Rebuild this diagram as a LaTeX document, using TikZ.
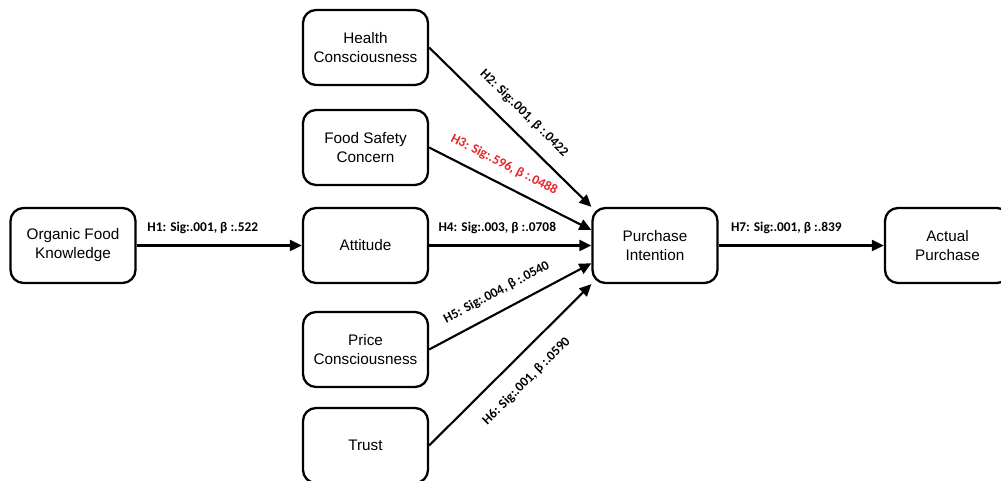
\documentclass[tikz,border=0pt]{standalone}
\usepackage{fontspec}
\setmainfont{Liberation Sans}
\newfontfamily\hypfont{Carlito}
\usetikzlibrary{positioning,arrows.meta,calc}
\definecolor{SigRed}{RGB}{232,34,40}

\begin{document}
\begin{tikzpicture}[
  construct/.style={draw, line width=1.3pt, rounded corners=0.26cm, minimum width=2.5cm,
    minimum height=1.5cm, align=center, font=\fontsize{8.7}{10.8}\selectfont},
  link/.style={-{Triangle[length=2.4mm,width=2.2mm]}, line width=1.2pt},
  hyp/.style={font=\hypfont\bfseries\fontsize{7.6}{9}\selectfont}]
  \useasboundingbox (0,0) rectangle (20.02,9.62);

  \node[construct] (ofk) at (1.46,4.71) {Organic Food\\Knowledge};
  \node[construct] (hc) at (7.31,8.67) {Health\\Consciousness};
  \node[construct] (fsc) at (7.31,6.67) {Food Safety\\Concern};
  \node[construct] (att) at (7.31,4.71) {Attitude};
  \node[construct] (pc) at (7.31,2.63) {Price\\Consciousness};
  \node[construct] (tr) at (7.31,0.71) {Trust};
  \node[construct] (pi) at (13.10,4.71) {Purchase\\Intention};
  \node[construct] (ap) at (18.95,4.71) {Actual\\Purchase};

  \draw[link] (ofk) -- (att) node[hyp, pos=.4, above=1mm] {H1: Sig:.001, β :.522};
  \draw[link] (hc.east) -- (pi.north west)
    node[hyp, pos=.5, sloped, above=1.4mm] {H2: Sig:.001, β :.0422};
  \draw[link] (fsc.east) -- ($(pi.north west)!0.3!(pi.south west)$)
    node[hyp, SigRed, pos=.41, sloped, above=1.2mm] {H3: Sig:.596, β :.0488};
  \draw[link] (att) -- (pi) node[hyp, pos=.42, above=1mm] {H4: Sig:.003, β :.0708};
  \draw[link] (pc.east) -- ($(pi.north west)!0.73!(pi.south west)$)
    node[hyp, pos=.47, sloped, above=1.2mm] {H5: Sig:.004, β :.0540};
  \draw[link] (tr.east) -- (pi.south west)
    node[hyp, pos=.5, sloped, below=2.1mm] {H6: Sig:.001, β :.0590};
  \draw[link] (pi) -- (ap) node[hyp, pos=.41, above=1mm] {H7: Sig:.001, β :.839};
\end{tikzpicture}
\end{document}
